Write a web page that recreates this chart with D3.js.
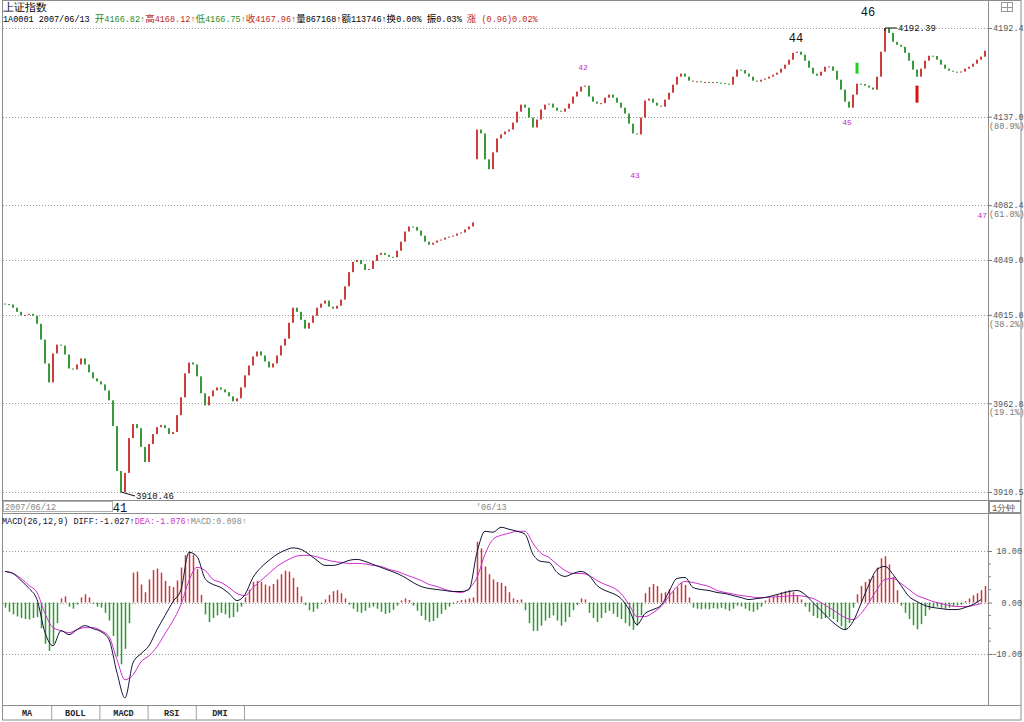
<!DOCTYPE html>
<html>
<head>
<meta charset="utf-8">
<script src="https://cdn.jsdelivr.net/npm/d3@7"></script>
<style>
  body { margin: 0; background: #fff; }
  svg { display: block; }
  text { font-family: "Liberation Mono", "DejaVu Sans Mono", monospace; }
</style>
</head>
<body>
<div id="chart"></div>
<script>
// 1-minute closes, 2007/06/12 afternoon + 2007/06/13
const closes = [
  4022.3, 4022.0, 4020.1, 4017.6, 4015.5, 4015.8, 4016.4, 4015.2, 4010.4, 4000.9,
  3986.6, 3975.3, 3992.6, 3997.9, 3997.3, 3992.0, 3983.6, 3983.0, 3986.0, 3989.6,
  3986.0, 3981.3, 3977.7, 3975.9, 3974.1, 3970.5, 3964.6, 3949.3, 3922.8, 3910.46,
  3921.7, 3942.2, 3950.5, 3948.1, 3937.0, 3928.1, 3938.7, 3944.6, 3948.7, 3949.9,
  3948.1, 3944.6, 3945.8, 3955.8, 3966.4, 3980.7, 3987.2, 3986.0, 3978.9, 3968.8,
  3961.6, 3967.0, 3970.5, 3972.3, 3971.1, 3969.4, 3967.0, 3964.0, 3965.8, 3972.3,
  3979.5, 3985.4, 3990.8, 3993.8, 3991.4, 3987.8, 3984.2, 3986.6, 3991.4, 3997.3,
  4001.5, 4011.0, 4020.1, 4017.6, 4012.8, 4007.5, 4011.0, 4015.2, 4020.1, 4022.6,
  4024.4, 4020.7, 4019.5, 4021.3, 4025.0, 4033.0, 4041.6, 4047.8, 4049.0, 4046.5,
  4042.9, 4043.5, 4048.4, 4052.1, 4053.3, 4052.1, 4050.9, 4050.6, 4054.6, 4060.1,
  4066.3, 4069.4, 4069.1, 4066.9, 4063.8, 4060.1, 4058.3, 4059.5, 4060.8, 4061.4,
  4062.6, 4063.2, 4063.8, 4065.1, 4065.7, 4067.6, 4069.4, 4071.9,
  4129.0, 4126.6, 4110.6, 4104.5, 4114.9, 4123.5, 4126.0, 4127.8, 4129.0, 4133.3,
  4140.1, 4144.5, 4142.6, 4136.4, 4130.3, 4135.2, 4141.4, 4144.5, 4145.1, 4142.6,
  4140.7, 4140.1, 4142.0, 4145.1, 4149.5, 4152.6, 4155.7, 4156.3, 4149.5, 4146.3,
  4145.1, 4145.4, 4148.8, 4150.7, 4148.8, 4145.7, 4142.6, 4138.9, 4132.7, 4126.6,
  4126.0, 4136.4, 4147.0, 4148.2, 4145.7, 4143.8, 4143.2, 4147.6, 4151.9, 4156.9,
  4161.9, 4163.8, 4161.9, 4159.4, 4158.8, 4159.0, 4158.5, 4158.6, 4158.3, 4158.5,
  4158.2, 4157.9, 4157.5, 4156.9, 4161.9, 4166.3, 4166.0, 4163.8, 4161.9, 4159.4,
  4158.8, 4160.0, 4160.7, 4161.9, 4163.1, 4164.4, 4166.9, 4169.4, 4172.5, 4176.8,
  4177.5, 4175.6, 4171.9, 4167.5, 4163.8, 4162.5, 4165.0, 4168.1, 4168.3, 4165.6,
  4160.0, 4153.8, 4146.3, 4142.6, 4150.7, 4157.5, 4157.3, 4156.3, 4155.1, 4153.8,
  4161.9, 4177.5, 4192.39, 4189.3, 4183.7, 4181.8, 4180.6, 4176.8, 4171.9, 4166.3,
  4161.9, 4166.9, 4171.9, 4175.0, 4174.8, 4172.5, 4169.4, 4166.9, 4165.6, 4165.0,
  4164.8, 4165.1, 4166.9, 4168.1, 4170.0, 4172.5, 4174.4, 4178.1
]

// first bar of each session opens away from the previous close
const sessionStart = [0, 118]
const sessionOpens = [4022.6, 4110.6]
const sessionLabels = ['2007/06/12', '06/13']

// MACD histogram, one value per bar
const macdBars = [
  -1.0, -1.8, -2.3, -2.7, -3.0, -3.2, -3.3, -3.0, -2.8, -5.0,
  -8.0, -9.4, -8.0, -4.0, 0.8, 1.2, -0.8, -1.2, -0.4, 1.0,
  1.6, 1.0, -0.3, -0.8, -1.0, -2.0, -3.5, -6.5, -10.5, -12.0,
  -9.0, -4.0, 5.8, 6.0, 3.5, 2.0, 4.5, 6.3, 6.6, 5.8,
  4.2, 3.2, 3.0, 4.3, 6.8, 9.2, 10.0, 9.3, 6.5, 1.5,
  -2.3, -3.8, -3.0, -2.5, -2.0, -2.3, -3.0, -2.8, -1.8, -0.8,
  1.0, 2.5, 4.0, 4.2, 4.0, 3.5, 3.2, 3.6, 4.5, 5.5,
  6.2, 6.0, 4.8, 3.0, 1.2, -0.5, -1.5, -1.8, -1.2, -0.3,
  0.6, 1.5, 2.2, 2.4, 1.8, 0.8, -0.4, -1.2, -1.8, -2.0,
  -1.6, -1.0, -0.8, -1.2, -1.8, -2.2, -2.0, -1.4, -0.6, 0.4,
  0.8, 0.5, -0.6, -1.6, -2.6, -3.4, -3.8, -3.6, -3.0, -2.2,
  -1.4, -0.8, -0.3, 0.3, 0.5, 0.6, 0.8, 1.0,
  11.8, 10.5, 7.0, 5.5, 4.5, 4.0, 3.8, 3.2, 2.0, 0.8,
  0.5, 0.6, -1.5, -4.0, -5.5, -5.5, -4.5, -3.5, -3.0, -2.5,
  -3.5, -4.5, -3.8, -2.8, -1.5, -0.5, 0.8, 0.6, -2.0, -3.0,
  -3.8, -3.0, -2.0, -1.6, -2.2, -2.8, -3.2, -4.0, -4.6, -5.3,
  -4.5, -2.5, 1.8, 3.0, 3.6, 3.2, 1.8, 2.0, 2.6, 2.2,
  3.0, 3.8, 3.4, 1.0, -1.0, -1.2, -1.3, -1.2, -1.3, -1.1,
  -1.2, -1.0, -1.3, -1.6, -1.2, -0.6, -0.8, -1.2, -1.6, -1.8,
  -1.4, -0.8, 0.4, 0.8, 1.2, 1.6, 2.0, 2.2, 2.4, 2.0,
  1.4, 0.6, -0.8, -1.8, -2.6, -3.0, -3.2, -3.0, -2.8, -3.2,
  -3.8, -4.6, -5.2, -4.0, -1.0, 1.6, 3.2, 4.0, 4.6, 5.2,
  6.8, 8.6, 9.0, 7.4, 5.0, 2.4, -0.6, -2.0, -3.2, -4.4,
  -5.2, -4.2, -2.6, -1.4, -1.0, -0.8, -1.0, -1.2, -1.0, -0.8,
  -0.6, -0.4, 0.3, 0.8, 1.4, 1.8, 2.4, 3.2
]

// DIFF / DEA read every second bar
const macdStep = 2
const diffLine = [
  6.04, 5.65, 4.29, 2.73, 0.58, -5.85, -8.38, -5.46, -6.24, -5.26,
  -4.48, -5.07, -5.65, -7.21, -13.65, -18.52, -11.70, -9.94, -8.38, -5.26,
  -2.53, 0.19, 2.53, 9.75, 8.97, 4.68, 3.51, 2.92, 1.75, 0.39,
  1.56, 4.87, 6.82, 8.19, 9.36, 10.14, 10.62, 10.33, 9.36, 8.19,
  7.21, 7.21, 7.60, 8.19, 8.38, 7.99, 7.41, 6.82, 6.24, 5.65,
  4.87, 3.90, 3.12, 2.73, 2.53, 2.34, 2.14, 2.14, 2.53, 9.75,
  13.84, 13.65, 14.62, 14.23, 13.84, 13.26, 9.36, 7.99, 7.80, 5.85,
  5.07, 5.65, 6.04, 5.26, 3.31, 2.34, 1.75, 0.78, -1.36, -4.29,
  -2.14, -1.36, -0.58, 2.14, 4.68, 4.87, 2.92, 2.53, 2.34, 1.95,
  1.75, 1.36, 0.97, 0.58, 0.78, 0.97, 1.36, 1.75, 2.14, 2.34,
  1.56, 0.00, -1.56, -3.12, -4.48, -5.26, -3.70, -0.19, 3.51, 6.43,
  7.02, 5.46, 3.31, 1.17, 0.19, -0.58, -0.97, -1.17, -1.36, -1.36,
  -0.97, -0.39, 0.58
]
const deaLine = [
  6.04, 5.65, 4.68, 3.31, 1.95, -2.14, -4.87, -5.46, -5.85, -5.26,
  -4.87, -4.87, -5.46, -6.63, -11.11, -15.01, -14.04, -11.50, -10.33, -8.58,
  -6.04, -3.51, -0.39, 4.29, 6.82, 6.24, 4.48, 3.90, 2.92, 1.75,
  1.36, 2.92, 4.29, 5.65, 7.02, 7.99, 8.77, 9.16, 9.16, 8.87,
  8.38, 7.99, 7.80, 7.60, 7.60, 7.50, 7.21, 7.02, 6.43, 6.04,
  5.46, 4.87, 4.29, 3.51, 3.12, 2.53, 2.14, 1.95, 2.73, 4.87,
  9.36, 12.28, 13.06, 13.45, 13.84, 13.84, 11.50, 9.55, 8.77, 7.41,
  6.24, 5.65, 5.65, 5.26, 4.29, 3.51, 2.92, 1.75, -0.39, -2.73,
  -2.73, -1.95, -0.78, 1.17, 3.12, 4.09, 3.90, 3.51, 3.12, 2.34,
  1.95, 1.66, 1.36, 1.17, 0.97, 0.97, 1.07, 1.17, 1.27, 1.36,
  1.17, 0.78, 0.00, -0.97, -1.95, -2.92, -3.31, -2.14, 0.00, 2.53,
  4.48, 4.68, 3.70, 2.53, 1.36, 0.78, 0.19, -0.19, -0.58, -0.78,
  -0.78, -0.58, -0.19
]

// axis ticks
const priceTicks = [4192.4, 4137.0, 4082.4, 4049.0, 4015.8, 3962.8, 3910.5]
const pricePercents = ['', '80.9%', '61.8%', '', '38.2%', '19.1%', '']
const macdTicks = [10, 0, -10]
const macdMinorTicks = [7.5, 5, 2.5, -2.5, -5, -7.5]

// wave count labels: bar index, price level, degree
const waveLabels = ['41', '42', '43', '44', '45', '46', '47']
const waveBars = [29, 145, 158, 198, 211, 216, 245]
const waveLevels = [3901.1, 4167.5, 4100.8, 4186.2, 4133.3, 4202.4, 4076.2]
const waveMajor = [true, false, false, true, false, true, false]

// signal marks
const signalBars = [213, 228]
const signalKinds = ['green', 'red']

const tabs = ['MA', 'BOLL', 'MACD', 'RSI', 'DMI']

const infoLine = [
  ['1A0001 2007/06/13 ', 'k'], ['开', 'g'], ['4166.82↑', 'g'], ['高', 'r'], ['4168.12↑', 'r'],
  ['低', 'g'], ['4166.75↑', 'g'], ['收', 'r'], ['4167.96↑', 'r'], ['量', 'k'], ['867168↑', 'k'],
  ['额', 'k'], ['113746↑', 'k'], ['换', 'k'], ['0.00% ', 'k'], ['振', 'k'], ['0.03% ', 'k'],
  ['涨', 'r'], [' (0.96)0.02%', 'r']
]
const macdHeader = [
  ['MACD(26,12,9) DIFF:-1.027↑', '#101030'], ['DEA:-1.076↑', '#d030d0'], ['MACD:0.098↑', '#8a8a8a']
]

function draw() {
  let dimensions = {
    width: 1024,
    height: 722,
    plotLeft: 3,
    axisX: 988,
    right: 1021,
    priceTop: 28,
    priceBottom: 492,
    stripTop: 500,
    stripBottom: 513,
    macdTop: 515,
    macdBottom: 705,
    tabBottom: 720
  }

  const upColor = '#cc3c3c'
  const downColor = '#3a9a3a'
  const cjk = '"Noto Sans CJK SC", sans-serif'
  const textColors = { k: '#000', g: '#2a8a2a', r: '#c02828' }

  const svg = d3.select('#chart')
    .append('svg')
    .attr('width', dimensions.width)
    .attr('height', dimensions.height)

  const defs = svg.append('defs')
  defs.append('clipPath').attr('id', 'clip-price')
    .append('rect')
    .attr('x', dimensions.plotLeft).attr('y', 0)
    .attr('width', dimensions.axisX - dimensions.plotLeft).attr('height', dimensions.stripTop)
  defs.append('clipPath').attr('id', 'clip-macd')
    .append('rect')
    .attr('x', dimensions.plotLeft).attr('y', dimensions.stripBottom)
    .attr('width', dimensions.axisX - dimensions.plotLeft)
    .attr('height', dimensions.macdBottom - dimensions.stripBottom)

  // Scales
  const xScale = d3.scaleLinear()
    .domain([0, closes.length - 1])
    .range([5, 985])

  const yScale = d3.scaleLog()
    .domain([d3.min(closes), d3.max(closes)])
    .range([dimensions.priceBottom, dimensions.priceTop])

  const macdScale = d3.scaleLinear()
    .domain([-19.9, 17])
    .range([dimensions.macdBottom, dimensions.macdTop])

  const openOf = i => {
    const s = sessionStart.indexOf(i)
    return s >= 0 ? sessionOpens[s] : closes[i - 1]
  }

  // Frame
  const frame = svg.append('g').attr('stroke', '#8c8c8c').attr('fill', 'none')
  frame.append('rect')
    .attr('x', 2.5).attr('y', 0.5)
    .attr('width', dimensions.right - 2.5).attr('height', dimensions.tabBottom - 0.5)
  frame.append('line')
    .attr('x1', dimensions.axisX + 0.5).attr('x2', dimensions.axisX + 0.5)
    .attr('y1', 0).attr('y2', dimensions.macdBottom)
  ;[dimensions.stripTop, dimensions.stripBottom, dimensions.macdBottom].forEach(y => {
    frame.append('line')
      .attr('x1', 2).attr('x2', dimensions.right)
      .attr('y1', y + 0.5).attr('y2', y + 0.5)
  })

  // Grid lines
  const grid = svg.append('g')
    .attr('stroke', '#9a9a9a')
    .attr('stroke-dasharray', '1,2')
  grid.selectAll('line.pg')
    .data(priceTicks)
    .join('line')
    .attr('class', 'pg')
    .attr('x1', dimensions.plotLeft).attr('x2', dimensions.axisX)
    .attr('y1', d => Math.round(yScale(d)) + 0.5)
    .attr('y2', d => Math.round(yScale(d)) + 0.5)
  grid.selectAll('line.mg')
    .data(macdTicks)
    .join('line')
    .attr('class', 'mg')
    .attr('x1', dimensions.plotLeft).attr('x2', dimensions.axisX)
    .attr('y1', d => Math.round(macdScale(d)) + 0.5)
    .attr('y2', d => Math.round(macdScale(d)) + 0.5)

  // Candles
  const price = svg.append('g').attr('clip-path', 'url(#clip-price)')
  price.selectAll('rect')
    .data(closes)
    .join('rect')
    .attr('x', (d, i) => xScale(i) - 1)
    .attr('y', (d, i) => Math.min(yScale(openOf(i)), yScale(d)))
    .attr('width', 2)
    .attr('height', (d, i) => Math.max(1, Math.abs(yScale(openOf(i)) - yScale(d))))
    .attr('fill', (d, i) => d >= openOf(i) ? upColor : downColor)

  // High / low notes
  const hi = d3.maxIndex(closes)
  const lo = d3.minIndex(closes)
  const fmt = d3.format('.2f')
  const notes = svg.append('g').attr('font-size', 9).attr('fill', '#111')
  notes.append('path')
    .attr('d', `M${xScale(hi)},${yScale(closes[hi]) + 3}V${yScale(closes[hi])}H${xScale(hi) + 12}`)
    .attr('stroke', '#111').attr('fill', 'none')
  notes.append('text')
    .attr('x', xScale(hi) + 13).attr('y', yScale(closes[hi]) + 3)
    .text(fmt(closes[hi]))
  notes.append('path')
    .attr('d', `M${xScale(lo)},${yScale(closes[lo])}L${xScale(lo) + 14},${yScale(closes[lo]) + 4}`)
    .attr('stroke', '#111').attr('fill', 'none')
  notes.append('text')
    .attr('x', xScale(lo) + 15).attr('y', yScale(closes[lo]) + 7)
    .text(fmt(closes[lo]))

  // Signal marks
  svg.selectAll('rect.signal')
    .data(signalBars)
    .join('rect')
    .attr('class', 'signal')
    .attr('x', d => xScale(d) - 1.5)
    .attr('y', (d, k) => yScale(closes[d]) + (signalKinds[k] === 'green' ? -21 : 9))
    .attr('width', 3)
    .attr('height', (d, k) => signalKinds[k] === 'green' ? 11 : 17)
    .attr('fill', (d, k) => signalKinds[k] === 'green' ? '#22d022' : '#e01010')

  // Wave labels (the last one sits against the axis)
  const lastWave = waveLabels.length - 1
  svg.append('g').selectAll('text')
    .data(waveLabels)
    .join('text')
    .attr('x', (d, k) => k === lastWave ? dimensions.axisX - 1 : xScale(waveBars[k]) - (waveMajor[k] ? 1 : 2))
    .attr('y', (d, k) => yScale(waveLevels[k]))
    .attr('dy', '0.35em')
    .attr('text-anchor', (d, k) => k === lastWave ? 'end' : 'middle')
    .attr('font-family', (d, k) => waveMajor[k] ? '"Liberation Serif", serif' : '"DejaVu Sans", sans-serif')
    .attr('font-size', (d, k) => waveMajor[k] ? 12 : 8)
    .attr('fill', (d, k) => waveMajor[k] ? '#111' : '#c030c8')
    .text(d => d)

  // MACD
  const macd = svg.append('g').attr('clip-path', 'url(#clip-macd)')
  macd.selectAll('rect')
    .data(macdBars)
    .join('rect')
    .attr('x', (d, i) => xScale(i) - 0.25)
    .attr('width', 1.5)
    .attr('y', d => Math.min(macdScale(0), macdScale(d)))
    .attr('height', d => Math.abs(macdScale(d) - macdScale(0)))
    .attr('fill', d => d >= 0 ? '#c83a3a' : '#2f9a2f')

  const line = d3.line()
    .x((d, k) => xScale(k * macdStep))
    .y(d => macdScale(d))
    .curve(d3.curveMonotoneX)
  macd.append('path').datum(deaLine)
    .attr('d', line).attr('fill', 'none').attr('stroke', '#d030d0').attr('stroke-width', 1)
  macd.append('path').datum(diffLine)
    .attr('d', line).attr('fill', 'none').attr('stroke', '#15153a').attr('stroke-width', 1)

  // Axes
  const yAxis = d3.axisRight(yScale)
    .tickValues(priceTicks)
    .tickFormat(d3.format('.1f'))
    .tickSize(4)
    .tickPadding(1)
  const yAxisGroup = svg.append('g')
    .attr('transform', `translate(${dimensions.axisX}, 0)`)
    .call(yAxis)
  yAxisGroup.select('.domain').remove()
  yAxisGroup.selectAll('line').attr('stroke', '#777')
  yAxisGroup.selectAll('text')
    .attr('font-family', '"Liberation Mono", monospace')
    .attr('font-size', 8.5)
    .attr('fill', '#555')
  yAxisGroup.selectAll('text.pct')
    .data(priceTicks.filter((d, k) => pricePercents[k]))
    .join('text')
    .attr('class', 'pct')
    .attr('x', 1)
    .attr('y', d => yScale(d) + 12)
    .attr('font-size', 8.5)
    .attr('fill', '#777')
    .text(d => `(${pricePercents[priceTicks.indexOf(d)]})`)

  const macdAxis = d3.axisRight(macdScale)
    .tickValues(macdTicks)
    .tickFormat(d3.format('.2f'))
    .tickSize(4)
    .tickPadding(30)
  const macdAxisGroup = svg.append('g')
    .attr('transform', `translate(${dimensions.axisX}, 0)`)
    .call(macdAxis)
  macdAxisGroup.select('.domain').remove()
  macdAxisGroup.selectAll('line').attr('stroke', '#777')
  macdAxisGroup.selectAll('text')
    .attr('text-anchor', 'end')
    .attr('font-size', 8.5)
    .attr('fill', '#555')
  macdAxisGroup.selectAll('line.minor')
    .data(macdMinorTicks)
    .join('line')
    .attr('class', 'minor')
    .attr('x1', 0).attr('x2', 3)
    .attr('y1', d => macdScale(d)).attr('y2', d => macdScale(d))
    .attr('stroke', '#888')

  // Header
  svg.append('text')
    .attr('x', 3).attr('y', 11)
    .attr('font-family', cjk).attr('font-size', 10.5)
    .attr('fill', '#000')
    .text('上证指数')

  const info = svg.append('text')
    .attr('x', 3).attr('y', 22)
    .attr('font-size', 8.5)
  info.selectAll('tspan')
    .data(infoLine)
    .join('tspan')
    .attr('font-family', d => /[\u4e00-\u9fff]/.test(d[0]) ? cjk : '"Liberation Mono", monospace')
    .attr('font-size', d => /[\u4e00-\u9fff]/.test(d[0]) ? 9.5 : 8.5)
    .attr('fill', d => textColors[d[1]])
    .text(d => d[0])

  const mh = svg.append('text')
    .attr('x', 2).attr('y', 524)
    .attr('font-size', 8.5)
  mh.selectAll('tspan')
    .data(macdHeader)
    .join('tspan')
    .attr('fill', d => d[1])
    .text(d => d[0])

  // Date strip
  const strip = svg.append('g').attr('font-size', 8.5).attr('fill', '#888')
  strip.append('rect')
    .attr('x', 3.5).attr('y', dimensions.stripTop + 1.5)
    .attr('width', 109).attr('height', 10)
    .attr('fill', 'none').attr('stroke', '#b0b0b0')
  strip.selectAll('text.day')
    .data(sessionLabels)
    .join('text')
    .attr('class', 'day')
    .attr('x', (d, k) => k === 0 ? 5 : xScale(sessionStart[k]) - 1)
    .attr('y', dimensions.stripTop + 10)
    .text((d, k) => k === 0 ? d : `'${d}`)
  strip.append('rect')
    .attr('x', dimensions.axisX + 1.5).attr('y', dimensions.stripTop + 1.5)
    .attr('width', dimensions.right - dimensions.axisX - 2).attr('height', 11)
    .attr('fill', 'none').attr('stroke', '#909090')
  strip.append('text')
    .attr('x', dimensions.axisX + 4).attr('y', dimensions.stripTop + 11)
    .attr('font-family', cjk).attr('font-size', 9)
    .attr('fill', '#555')
    .text('1分钟')

  // window icon
  const icon = svg.append('g').attr('stroke', '#999').attr('fill', 'none')
  icon.append('rect').attr('x', 1001.5).attr('y', 2.5).attr('width', 11).attr('height', 9)
  icon.append('line').attr('x1', 1001.5).attr('x2', 1012.5).attr('y1', 7.5).attr('y2', 7.5)
  icon.append('line').attr('x1', 1007.5).attr('x2', 1007.5).attr('y1', 2.5).attr('y2', 11.5)

  // Tabs
  const tabWidth = 48.2
  const tabGroup = svg.append('g')
  tabGroup.selectAll('line')
    .data(tabs)
    .join('line')
    .attr('x1', (d, k) => 3 + (k + 1) * tabWidth + 0.5)
    .attr('x2', (d, k) => 3 + (k + 1) * tabWidth + 0.5)
    .attr('y1', dimensions.macdBottom + 1).attr('y2', dimensions.tabBottom)
    .attr('stroke', '#a0a0a0')
  tabGroup.selectAll('text')
    .data(tabs)
    .join('text')
    .attr('x', (d, k) => 3 + (k + 0.5) * tabWidth)
    .attr('y', dimensions.macdBottom + 11)
    .attr('text-anchor', 'middle')
    .attr('font-family', '"Liberation Serif", serif')
    .attr('font-weight', 'bold')
    .attr('font-size', 8.5)
    .attr('fill', '#222')
    .text(d => d)
}

draw()
</script>
</body>
</html>
